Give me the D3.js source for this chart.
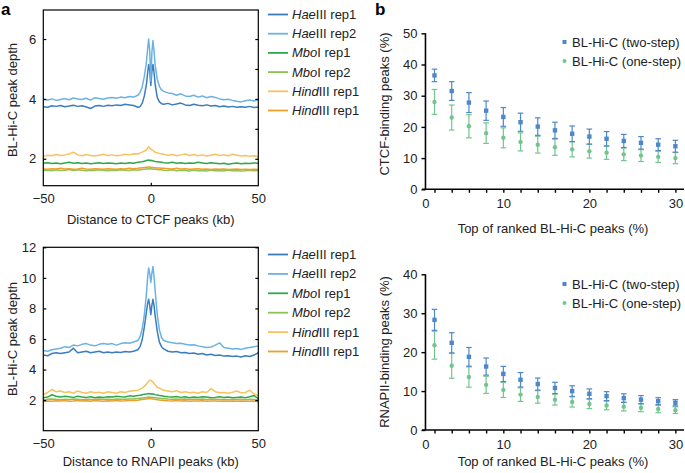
<!DOCTYPE html>
<html><head><meta charset="utf-8">
<script src="https://cdn.jsdelivr.net/npm/d3@7"></script>
<style>
body{margin:0;background:#fff;}
svg{font-family:"Liberation Sans",Arial,Helvetica,sans-serif;}
</style></head>
<body><svg id="c" width="685" height="473"></svg>
<script>
// ---------- DATA ----------
const profileX = [-50,-48,-46,-44,-42,-40,-38,-36,-34,-32,-30,-28,-26,-24,-22,-20,-18,-16,-14,-12,-10,-8,-6,
  -5,-4,-3,-2,-1.5,-1,-0.5,0,0.5,1,1.5,2,3,4,5,
  6,8,10,12,14,16,18,20,22,24,26,28,30,32,34,36,38,40,42,44,46,48,50];

const seriesItalic = ["Hae","Hae","Mbo","Mbo","Hind","Hind"];
const seriesRest = ["III rep1","III rep2","I rep1","I rep2","III rep1","III rep1"];
const seriesColors = ["#3b7dbd","#6cb2e2","#2fa84b","#8fc155","#f8c25f","#efa02a"];

// CTCF profiles
const ctcfHae1 = [3.74,3.72,3.77,3.75,3.78,3.74,3.76,3.79,3.75,3.77,3.73,3.68,3.76,3.78,3.75,3.79,3.77,3.80,3.78,3.82,3.80,3.78,3.72,
  3.74,3.85,4.10,4.50,4.85,5.15,4.95,4.45,4.90,5.15,4.90,4.50,4.05,3.90,3.84,
  3.82,3.85,3.80,3.83,3.86,3.80,3.78,3.82,3.79,3.77,3.80,3.76,3.78,3.74,3.76,3.73,3.75,3.72,3.74,3.72,3.75,3.71,3.73];
const ctcfHae2 = [3.98,3.96,4.00,3.95,3.98,4.01,3.97,4.03,4.00,3.98,4.02,3.96,4.04,4.01,3.99,4.03,4.05,4.02,4.06,4.04,4.08,4.06,4.12,
  4.22,4.40,4.75,5.25,5.65,6.00,5.60,4.60,5.55,5.95,5.60,5.15,4.65,4.42,4.30,
  4.25,4.20,4.18,4.12,4.17,4.10,4.08,4.12,4.06,4.10,4.04,4.08,4.05,4.00,3.97,3.99,3.95,3.92,3.90,3.94,3.96,3.93,3.97];
const ctcfMbo1 = [1.85,1.87,1.84,1.86,1.83,1.86,1.88,1.85,1.87,1.84,1.86,1.83,1.85,1.87,1.84,1.86,1.85,1.83,1.86,1.84,1.87,1.85,1.88,
  1.89,1.90,1.92,1.94,1.95,1.96,1.94,1.95,1.93,1.94,1.92,1.91,1.90,1.89,1.88,
  1.87,1.86,1.88,1.85,1.87,1.84,1.86,1.85,1.88,1.86,1.84,1.87,1.85,1.83,1.85,1.82,1.84,1.86,1.83,1.85,1.84,1.86,1.85];
const ctcfMbo2 = [1.61,1.62,1.60,1.63,1.61,1.62,1.64,1.61,1.63,1.62,1.60,1.62,1.61,1.63,1.62,1.60,1.62,1.61,1.63,1.62,1.61,1.63,1.62,
  1.63,1.64,1.65,1.66,1.66,1.67,1.66,1.67,1.66,1.66,1.65,1.65,1.64,1.63,1.63,
  1.62,1.61,1.63,1.60,1.62,1.61,1.59,1.62,1.60,1.61,1.59,1.62,1.60,1.61,1.59,1.62,1.60,1.61,1.59,1.60,1.62,1.60,1.61];
const ctcfHind1 = [2.08,2.12,2.10,2.14,2.11,2.13,2.16,2.22,2.13,2.10,2.14,2.11,2.09,2.12,2.15,2.11,2.13,2.10,2.12,2.15,2.13,2.17,2.16,
  2.19,2.22,2.26,2.30,2.36,2.40,2.35,2.33,2.30,2.28,2.25,2.22,2.20,2.18,2.17,
  2.15,2.12,2.14,2.10,2.13,2.16,2.11,2.14,2.10,2.13,2.09,2.12,2.15,2.11,2.13,2.10,2.15,2.12,2.09,2.11,2.08,2.10,2.07];
const ctcfHind2 = [1.66,1.65,1.67,1.66,1.68,1.66,1.67,1.65,1.66,1.68,1.66,1.65,1.67,1.66,1.65,1.67,1.66,1.65,1.67,1.66,1.68,1.67,1.68,
  1.69,1.70,1.71,1.72,1.72,1.73,1.72,1.72,1.71,1.71,1.70,1.70,1.69,1.69,1.68,
  1.68,1.67,1.66,1.68,1.66,1.67,1.65,1.66,1.67,1.65,1.66,1.64,1.66,1.65,1.66,1.64,1.65,1.66,1.64,1.65,1.64,1.65,1.64];

// RNAPII profiles
const rnaHae1 = [4.95,4.90,5.05,5.10,5.05,5.10,5.15,5.40,5.10,5.15,5.20,5.10,5.15,5.20,5.10,5.15,5.10,5.15,5.12,5.18,5.15,5.20,5.30,
  5.50,5.95,6.80,7.80,8.30,8.60,8.20,7.60,8.20,8.60,8.20,7.55,6.50,5.80,5.50,
  5.35,5.20,5.15,5.18,5.10,5.12,5.05,5.08,5.00,5.05,4.95,5.00,4.92,4.95,4.88,4.90,4.85,4.88,4.82,4.90,4.85,4.95,5.10];
const rnaHae2 = [5.25,5.20,5.30,5.35,5.40,5.50,5.45,5.60,5.55,5.65,5.70,5.60,5.55,5.65,5.70,5.65,5.70,5.60,5.70,5.75,5.72,5.80,5.90,
  6.15,6.65,7.60,9.00,10.00,10.65,10.30,9.70,10.30,10.75,10.10,9.20,7.60,6.60,6.10,
  5.90,5.80,5.75,5.70,5.72,5.65,5.60,5.62,5.55,5.50,5.45,5.48,5.60,5.75,5.45,5.40,5.35,5.38,5.32,5.40,5.45,5.50,5.55];
const rnaMbo1 = [2.15,2.20,2.35,2.25,2.20,2.25,2.22,2.18,2.25,2.20,2.18,2.22,2.15,2.20,2.18,2.22,2.20,2.25,2.22,2.20,2.28,2.25,2.30,
  2.32,2.35,2.38,2.40,2.42,2.43,2.42,2.40,2.42,2.40,2.38,2.36,2.33,2.30,2.28,
  2.25,2.22,2.20,2.24,2.18,2.22,2.15,2.20,2.18,2.22,2.20,2.15,2.18,2.22,2.18,2.20,2.15,2.18,2.20,2.15,2.22,2.30,2.10];
const rnaMbo2 = [2.02,2.05,2.08,2.05,2.03,2.06,2.04,2.07,2.05,2.03,2.06,2.04,2.05,2.07,2.05,2.06,2.04,2.07,2.05,2.06,2.08,2.07,2.10,
  2.12,2.14,2.16,2.18,2.19,2.20,2.19,2.18,2.19,2.18,2.17,2.16,2.14,2.12,2.10,
  2.09,2.07,2.06,2.08,2.05,2.07,2.04,2.06,2.05,2.07,2.04,2.05,2.06,2.04,2.05,2.03,2.05,2.04,2.06,2.03,2.05,2.04,2.03];
const rnaHind1 = [2.35,2.50,2.70,2.55,2.60,2.50,2.55,2.45,2.60,2.50,2.45,2.55,2.48,2.52,2.45,2.55,2.50,2.45,2.55,2.50,2.58,2.62,2.65,
  2.72,2.80,2.90,3.05,3.15,3.25,3.30,3.30,3.25,3.18,3.10,3.00,2.85,2.78,2.70,
  2.65,2.60,2.55,2.62,2.50,2.55,2.48,2.52,2.45,2.55,2.50,2.75,2.55,2.48,2.50,2.45,2.52,2.60,2.48,2.50,2.65,2.40,2.30];
const rnaHind2 = [1.90,1.95,1.92,1.96,1.94,1.97,1.93,1.95,1.98,1.94,1.96,1.93,1.97,1.95,1.93,1.96,1.94,1.97,1.95,1.96,1.98,1.97,2.00,
  2.02,2.04,2.06,2.08,2.09,2.10,2.10,2.10,2.09,2.08,2.07,2.05,2.03,2.01,2.00,
  1.98,1.96,1.95,1.97,1.94,1.96,1.93,1.95,1.94,1.96,1.93,1.95,1.94,1.92,1.95,1.93,1.94,1.92,1.95,1.93,1.92,1.94,1.90];

// Panel b
const topPct = [2,4,6,8,10,12,14,16,18,20,22,24,26,28,30];
const ctcfTwo = [36.5,31.5,27.8,25.2,23.2,21.5,20.1,18.9,17.8,16.9,16.2,15.5,14.9,14.3,13.8];
const ctcfTwoErr = [2.0,3.0,3.2,3.1,3.0,2.9,2.8,2.6,2.5,2.4,2.3,2.1,2.0,1.9,1.9];
const ctcfOne = [28.0,23.0,20.2,18.0,16.5,15.2,14.3,13.5,12.8,12.2,11.7,11.2,10.8,10.4,10.0];
const ctcfOneErr = [4.0,4.0,3.7,3.3,3.2,2.9,2.7,2.6,2.4,2.2,2.1,2.0,1.9,1.8,1.8];
const rnaTwo = [28.3,22.4,18.8,16.3,14.4,12.9,11.8,10.8,10.0,9.3,8.7,8.2,7.8,7.4,7.0];
const rnaTwoErr = [2.7,2.6,2.4,2.2,1.95,1.85,1.55,1.45,1.35,1.25,1.15,1.1,1.05,0.9,0.8];
const rnaOne = [21.8,16.5,13.6,11.6,10.3,9.1,8.5,7.8,7.2,6.7,6.3,6.0,5.7,5.4,5.1];
const rnaOneErr = [3.6,3.2,2.6,2.2,1.95,1.75,1.6,1.4,1.3,1.2,1.1,1.1,1.0,0.95,0.85];
const bLegend = ["BL-Hi-C (two-step)","BL-Hi-C (one-step)"];
const bColors = ["#4f88c8","#74c48f"];

// ---------- DRAW ----------
const svg = d3.select("#c");
const FS = 13;

function profilePanel(cfg){
  const g = svg.append("g");
  const x = d3.scaleLinear().domain([-50,50]).range([43.3,258.3]);
  const y = d3.scaleLinear().domain(cfg.yDomain).range(cfg.yRange);
  const line = d3.line().x((d,i)=>x(profileX[i])).y(d=>y(d));
  cfg.series.forEach((s,k)=>{
    g.append("path").datum(s).attr("d",line).attr("fill","none")
      .attr("stroke",seriesColors[k]).attr("stroke-width",1.5).attr("stroke-linejoin","round");
  });
  g.append("rect").attr("x",x.range()[0]).attr("y",y.range()[1])
    .attr("width",x.range()[1]-x.range()[0]).attr("height",y.range()[0]-y.range()[1])
    .attr("fill","none").attr("stroke","#000").attr("stroke-width",1.2);
  const ax = g.append("g").attr("transform",`translate(0,${y.range()[0]})`)
    .call(d3.axisBottom(x).tickValues([-50,0,50]).tickSize(-3).tickPadding(8).tickFormat(d=>d<0?"\u2212"+(-d):String(d)));
  const ay = g.append("g").attr("transform",`translate(${x.range()[0]},0)`)
    .call(d3.axisLeft(y).tickValues(cfg.yTicks).tickSize(-3).tickPadding(7).tickFormat(d3.format("d")));
  const ay2 = g.append("g").attr("transform",`translate(${x.range()[1]},0)`)
    .call(d3.axisRight(y).tickValues(cfg.yTicksRight).tickSize(-3).tickFormat(""));
  [ax,ay,ay2].forEach(a=>{a.select(".domain").remove();a.selectAll("text").attr("font-size",FS).attr("font-family","inherit").attr("fill","#222");a.selectAll("line").attr("stroke-width",1.2);});
  ax.selectAll("line").filter((d)=>d!==0).remove();
  g.append("text").attr("x",150.8).attr("y",cfg.xLabelY).attr("text-anchor","middle")
    .attr("font-size",FS).attr("fill","#222").text(cfg.xLabel);
  g.append("text").attr("transform",`translate(17,${cfg.yLabelC}) rotate(-90)`).attr("text-anchor","middle")
    .attr("font-size",FS).attr("fill","#222").text("BL-Hi-C peak depth");
  seriesColors.forEach((c,k)=>{
    const ly = cfg.legY + k*cfg.legStep;
    g.append("line").attr("x1",268).attr("x2",288).attr("y1",ly).attr("y2",ly).attr("stroke",c).attr("stroke-width",1.8);
    const t = g.append("text").attr("x",292).attr("y",ly+4.5).attr("font-size",FS).attr("fill","#222");
    t.append("tspan").attr("font-style","italic").text(seriesItalic[k]);
    t.append("tspan").text(seriesRest[k]);
  });
}

profilePanel({yDomain:[1.1,6.97],yRange:[185.7,10],yTicks:[2,4,6],yTicksRight:[2,3,4,5,6],
  series:[ctcfHae1,ctcfHae2,ctcfMbo1,ctcfMbo2,ctcfHind1,ctcfHind2],
  xLabel:"Distance to CTCF peaks (kb)",xLabelY:224,yLabelC:100,legY:14.5,legStep:19.2});
profilePanel({yDomain:[0,12],yRange:[430.7,247.3],yTicks:[2,4,6,8,10,12],yTicksRight:[2,4,6,8,10,12],
  series:[rnaHae1,rnaHae2,rnaMbo1,rnaMbo2,rnaHind1,rnaHind2],
  xLabel:"Distance to RNAPII peaks (kb)",xLabelY:466,yLabelC:339,legY:254.5,legStep:19.4});

function pctPanel(cfg){
  const g = svg.append("g");
  const x = d3.scaleLinear().domain([0.5,31]).range([421.6,684]);
  const y = d3.scaleLinear().domain(cfg.yDomain).range(cfg.yRange);
  const x0 = x(0.95);
  const ay = g.append("g").attr("transform",`translate(${x0},0)`)
    .call(d3.axisLeft(y).ticks(cfg.yDomain[1]/10).tickSize(4).tickPadding(4));
  const ax = g.append("g").attr("transform",`translate(0,${y(0)})`)
    .call(d3.axisBottom(x).tickValues(topPct).tickSize(3.5).tickFormat(""));
  ax.select(".domain").attr("d",`M${x(0.55)},0H${x(31)}`);
  const axl = g.append("g").attr("transform",`translate(0,${y(0)})`)
    .call(d3.axisBottom(x).tickValues([0.95,10,20,30]).tickSize(0).tickPadding(9.5).tickFormat(d=>d<1?"0":String(d)));
  axl.select(".domain").remove();
  [ay,ax,axl].forEach(a=>{a.select(".domain").attr("stroke-width",1.6);a.selectAll("line").attr("stroke-width",1.4);a.selectAll("text").attr("font-size",FS).attr("font-family","inherit").attr("fill","#222");});
  ay.select(".domain").attr("d",`M0,${y(cfg.yDomain[1])}V${y(0)}`);
  [[cfg.one,cfg.oneErr,1],[cfg.two,cfg.twoErr,0]].forEach(([vals,errs,k])=>{
    const c = bColors[k];
    const s = g.append("g");
    vals.forEach((v,i)=>{
      const px = x(topPct[i]);
      s.append("line").attr("x1",px).attr("x2",px).attr("y1",y(v-errs[i])).attr("y2",y(v+errs[i])).attr("stroke",c).attr("stroke-width",1.2);
      [v-errs[i],v+errs[i]].forEach(e=>s.append("line").attr("x1",px-2.8).attr("x2",px+2.8).attr("y1",y(e)).attr("y2",y(e)).attr("stroke",c).attr("stroke-width",1.2));
      if(k===0) s.append("rect").attr("x",px-2.2).attr("y",y(v)-2.2).attr("width",4.4).attr("height",4.4).attr("fill",c);
      else s.append("circle").attr("cx",px).attr("cy",y(v)).attr("r",2.2).attr("fill",c);
    });
  });
  g.append("text").attr("x",553).attr("y",cfg.xLabelY).attr("text-anchor","middle").attr("font-size",FS).attr("fill","#222")
    .text("Top of ranked BL-Hi-C peaks (%)");
  g.append("text").attr("transform",`translate(389,${cfg.yLabelC}) rotate(-90)`).attr("text-anchor","middle")
    .attr("font-size",FS).attr("fill","#222").text(cfg.yLabel);
  bLegend.forEach((l,k)=>{
    const ly = cfg.legY + k*19;
    if(k===0) g.append("rect").attr("x",562.5).attr("y",ly-2).attr("width",4).attr("height",4).attr("fill",bColors[k]);
    else g.append("circle").attr("cx",564.5).attr("cy",ly).attr("r",2).attr("fill",bColors[k]);
    g.append("text").attr("x",572).attr("y",ly+4.5).attr("font-size",FS).attr("fill","#222").text(l);
  });
}

pctPanel({yDomain:[0,50],yRange:[189.3,33.3],two:ctcfTwo,twoErr:ctcfTwoErr,one:ctcfOne,oneErr:ctcfOneErr,
  xLabelY:233,yLabelC:104,yLabel:"CTCF-binding peaks (%)",legY:42});
pctPanel({yDomain:[0,40],yRange:[430,274.3],two:rnaTwo,twoErr:rnaTwoErr,one:rnaOne,oneErr:rnaOneErr,
  xLabelY:466,yLabelC:352,yLabel:"RNAPII-binding peaks (%)",legY:284});

svg.append("text").attr("x",1).attr("y",15).attr("font-size",17).attr("font-weight","bold").text("a");
svg.append("text").attr("x",375).attr("y",15).attr("font-size",17).attr("font-weight","bold").text("b");
</script></body></html>
